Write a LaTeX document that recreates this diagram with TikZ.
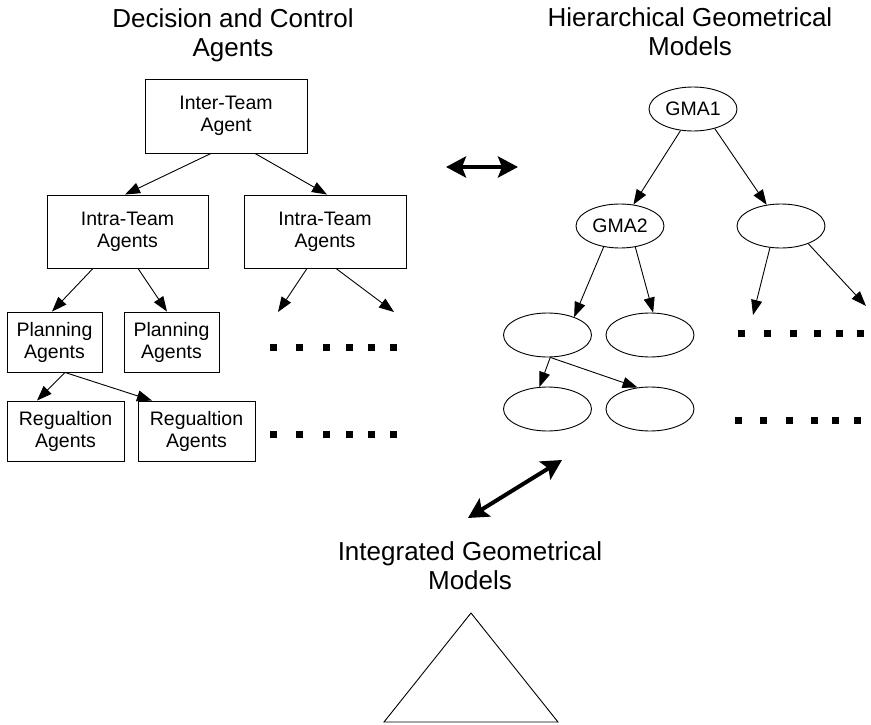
\documentclass[tikz,border=0pt]{standalone}
\usepackage{fontspec}
\setmainfont{Liberation Sans}
\usetikzlibrary{arrows.meta,shapes.geometric,calc}
\begin{document}
\begin{tikzpicture}[x=1pt,y=-1pt,
  box/.style={draw, line width=0.9pt, rectangle, inner sep=0pt, align=center, font=\fontsize{19.5}{22}\selectfont},
  ell/.style={draw, line width=0.9pt, ellipse, minimum width=88pt, minimum height=44pt, inner sep=0pt, font=\fontsize{19.5}{22}\selectfont},
  link/.style={line width=0.9pt, -{Triangle[length=15pt,width=11pt]}},
  bigarrow/.style={line width=4pt, {Stealth[length=20pt,width=21pt,inset=4pt]}-{Stealth[length=20pt,width=21pt,inset=4pt]}},
  title/.style={anchor=north, inner sep=0pt, align=center, font=\fontsize{26}{29}\selectfont},
  sq/.style={fill=black}
]
\useasboundingbox (0,0) rectangle (871,725);

% titles
\node[title] (t1) at (233,8) {Decision and Control\\Agents};
\node[title] (t2) at (690,7) {Hierarchical Geometrical\\Models};
\node[title] (t3) at (470,541) {Integrated Geometrical\\Models};

% left tree
\node[box, minimum width=162pt, minimum height=74pt] (inter) at (226,116) {Inter-Team\\Agent};
\node[box, minimum width=161pt, minimum height=73pt] (intraL) at (127.5,231.5) {Intra-Team\\Agents};
\node[box, minimum width=162pt, minimum height=73pt] (intraR) at (325,231.5) {Intra-Team\\Agents};
\node[box, minimum width=95pt, minimum height=60pt] (planL) at (54.5,342) {Planning\\Agents};
\node[box, minimum width=95pt, minimum height=60pt] (planR) at (171.5,342) {Planning\\Agents};
\node[box, minimum width=117pt, minimum height=60pt] (regL) at (65.5,431) {Regualtion\\Agents};
\node[box, minimum width=117pt, minimum height=60pt] (regR) at (196.5,431) {Regualtion\\Agents};

\coordinate (fL1) at (278,312);
\coordinate (fL2) at (394,312);

\draw[link] ([xshift=-15pt]inter.south) -- ([xshift=-2.5pt]intraL.north);
\draw[link] ([xshift=29pt]inter.south) -- ([xshift=2pt]intraR.north);
\draw[link] ([xshift=-34.5pt]intraL.south) -- ([xshift=-2.5pt]planL.north);
\draw[link] ([xshift=10.5pt]intraL.south) -- ([xshift=-4.5pt]planR.north);
\draw[link] ([xshift=-18pt]intraR.south) -- (fL1);
\draw[link] ([xshift=11pt]intraR.south) -- (fL2);
\draw[link] ([xshift=10.5pt]planL.south) -- ([xshift=-28.5pt]regL.north);
\draw[link] ([xshift=10.5pt]planL.south) -- ([xshift=-44.5pt]regR.north);

% right tree
\node[ell] (gma1) at (693,109) {GMA1};
\node[ell] (gma2) at (620,226) {GMA2};
\node[ell] (e2r) at (781,226) {};
\node[ell] (e3l) at (547.5,335) {};
\node[ell] (e3r) at (650,335) {};
\node[ell] (e4l) at (547.5,409) {};
\node[ell] (e4r) at (650,409) {};

\coordinate (fR1) at (753,315);
\coordinate (fR2) at (866,306);

\draw[link] (gma1.-120) -- (gma2.58);
\draw[link] (gma1.-42) -- (e2r.124);
\draw[link] (gma2.-128) -- (e3l.34);
\draw[link] (gma2.-54) -- (e3r.82);
\draw[link] (e2r.-117) -- (fR1);
\draw[link] (e2r.-33) -- (fR2);
\draw[link] (e3l.-83) -- (e4l.110);
\draw[link] (e3l.-83) -- (e4r.120);

% dotted continuations
\foreach \x in {273,299,326,349,371,393} {
  \fill[sq] (\x-3.5,343.8) rectangle ++(7,7);
  \fill[sq] (\x-3.5,430.8) rectangle ++(7,7);
}
\foreach \x in {741,767,793,817,839,860} {
  \fill[sq] (\x-3.5,329.5) rectangle ++(7,7);
}
\foreach \x in {738,763,789,814,835,857} {
  \fill[sq] (\x-3.5,416.5) rectangle ++(7,7);
}

% big double arrows
\coordinate (hA) at (446,167);
\coordinate (hB) at (518,167);
\draw[bigarrow] (hA) -- (hB);
\coordinate (dA) at (468,518);
\coordinate (dB) at (562,460);
\draw[bigarrow] (dA) -- (dB);

% triangle
\draw[line width=0.9pt] (471,613) -- (558,722) -- (384,722) -- cycle;
\end{tikzpicture}
\end{document}
